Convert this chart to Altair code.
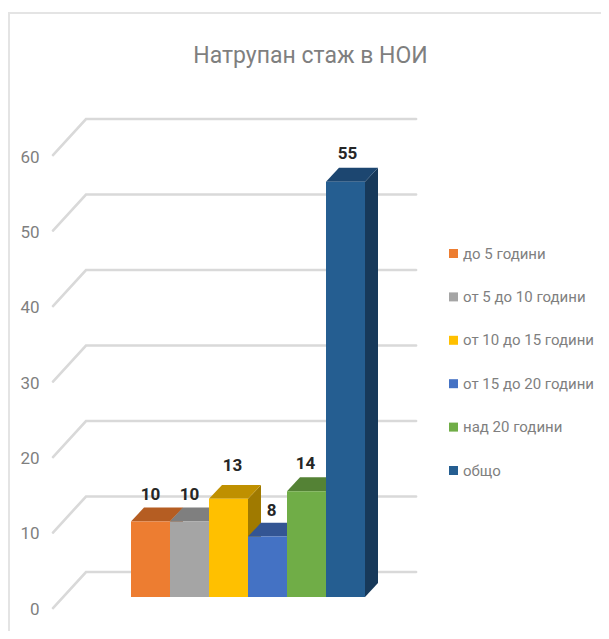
import altair as alt
import pandas as pd

series = ["до 5 години", "от 5 до 10 години", "от 10 до 15 години", "от 15 до 20 години", "над 20 години", "общо"]
values = [10, 10, 13, 8, 14, 55]
front_colors = ["#ED7D31", "#A5A5A5", "#FFC000", "#4472C4", "#70AD47", "#255E91"]
top_colors = ["#B55D22", "#7F7F7F", "#BF9000", "#335593", "#548235", "#1C4670"]
side_colors = ["#9E5320", "#6E6E6E", "#A07A00", "#2A4A80", "#466E2C", "#17395A"]
tick_values = [0, 10, 20, 30, 40, 50, 60]
label_dx = [0, 0, 4, 4, -1, 2]
label_dy = [-27, -27, -33, -26, -27, -28]

FONT = "Roboto"
W, H = 593, 623
PX_X, PX_Y = 39.0, 7.55          # pixels per category / per value unit
X_DOM = [(8 - 131) / PX_X, (8 + W - 131) / PX_X]
Y_DOM = [(597 - 8 - H) / PX_Y, (597 - 8) / PX_Y]
DEPTH_X, DEPTH_Y = 1 / 3, 1.85   # oblique depth of a bar
WALL_X0, WALL_X1, WALL_X2 = -2.0, -1.154, 7.31
WALL_Y0, WALL_Y1 = -1.46, 3.31

xs = alt.Scale(domain=X_DOM, nice=False, zero=False)
ys = alt.Scale(domain=Y_DOM, nice=False, zero=False)
X = alt.X("x:Q", scale=xs, axis=None)
Y = alt.Y("y:Q", scale=ys, axis=None)
Y2 = alt.Y2("y2:Q")

# back-wall gridlines
grid = pd.DataFrame(
    [dict(t=t, o=0, x=WALL_X0, y=t + WALL_Y0) for t in tick_values]
    + [dict(t=t, o=1, x=WALL_X1, y=t + WALL_Y1) for t in tick_values]
    + [dict(t=t, o=2, x=WALL_X2, y=t + WALL_Y1) for t in tick_values]
)
grid_layer = alt.Chart(grid).mark_line(color="#D9D9D9", strokeWidth=2.6, strokeCap="round", clip=False).encode(
    x=X, y=Y, detail="t:N", order="o:Q")

# oblique faces: all sides, then all tops
sides, tops = [], []
for i, v in enumerate(values):
    side = pd.DataFrame([
        dict(x=i + 1, y=0, y2=v),
        dict(x=i + 1 + DEPTH_X, y=DEPTH_Y, y2=v + DEPTH_Y),
    ])
    top = pd.DataFrame([
        dict(x=i, y=v, y2=v),
        dict(x=i + DEPTH_X, y=v, y2=v + DEPTH_Y),
        dict(x=i + 1, y=v, y2=v + DEPTH_Y),
        dict(x=i + 1 + DEPTH_X, y=v + DEPTH_Y, y2=v + DEPTH_Y),
    ])
    sides.append(alt.Chart(side).mark_area(color=side_colors[i], opacity=1).encode(x=X, y=Y, y2=Y2))
    tops.append(alt.Chart(top).mark_area(color=top_colors[i], opacity=1).encode(x=X, y=Y, y2=Y2))

# front faces carry the legend
bars = pd.DataFrame({
    "s": series,
    "x": list(range(len(values))),
    "x2": [i + 1 for i in range(len(values))],
    "y": [0] * len(values),
    "y2": values,
})
front = alt.Chart(bars).mark_rect().encode(
    x=X, x2=alt.X2("x2:Q"), y=Y, y2=Y2,
    color=alt.Color("s:N", sort=series,
                    scale=alt.Scale(domain=series, range=front_colors),
                    legend=alt.Legend(
                        title=None, orient="none", legendX=438, legendY=238,
                        symbolType="square", symbolSize=81, symbolStrokeWidth=0,
                        labelFont=FONT, labelFontSize=15, labelColor="#7F7F7F",
                        labelOffset=2, rowPadding=27.4, labelLimit=200,
                    )),
)

# data labels
labels = []
for i, v in enumerate(values):
    d = pd.DataFrame(dict(x=[i + 0.5], y=[v], t=[v]))
    labels.append(alt.Chart(d).mark_text(
        font=FONT, fontSize=17, fontWeight="bold", color="#262626",
        dx=label_dx[i], dy=label_dy[i], baseline="middle", align="center",
    ).encode(x=X, y=Y, text="t:Q"))

# frame
frame_l = alt.Chart().mark_rule(color="#E4E4E4", strokeWidth=2).encode(
    x=alt.value(1), y=alt.value(4), y2=alt.value(H))
frame_t = alt.Chart().mark_rule(color="#E4E4E4", strokeWidth=2).encode(
    x=alt.value(0), x2=alt.value(W), y=alt.value(5))

main = alt.layer(frame_l, frame_t, grid_layer, *sides, *tops, front, *labels)

# value axis, whose labels sit in front of the oblique wall
axis_unit = (609 - 157) / 60
axis_dom = [(609 - 8 - H) / axis_unit, (609 - 8) / axis_unit]
axis_df = pd.DataFrame({"v": tick_values})
axis_layer = alt.Chart(axis_df).mark_point(opacity=0).encode(
    x=alt.value(100),
    y=alt.Y("v:Q", scale=alt.Scale(domain=axis_dom, nice=False, zero=False),
            axis=alt.Axis(values=tick_values, title=None, orient="left", offset=-31,
                          domain=False, ticks=False, grid=False, labelPadding=0,
                          labelFont=FONT, labelFontSize=17, labelColor="#7F7F7F")),
)

chart = alt.layer(main, axis_layer).resolve_scale(y="independent").properties(
    width=W, height=H, padding=0, autosize=alt.AutoSizeParams(type="none"),
    title=alt.TitleParams("Натрупан стаж в НОИ", font=FONT, fontSize=23, fontWeight="normal",
                          color="#7F7F7F", anchor="middle", dx=6, dy=60, offset=0),
).configure_view(stroke=None)

chart.save("out.html", embed_options={"renderer": "svg", "actions": False})
